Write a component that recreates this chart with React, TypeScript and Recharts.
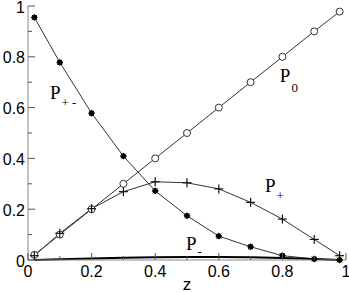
import { LineChart, Line, XAxis, YAxis, ReferenceDot } from "recharts";

/* ────────────────────────────────────────── */
/*  Data                                      */
/* ────────────────────────────────────────── */

const zValues = [0.02, 0.1, 0.2, 0.3, 0.4, 0.5, 0.6, 0.7, 0.8, 0.9, 0.98];
const p0 = [0.02, 0.1, 0.2, 0.3, 0.4, 0.5, 0.6, 0.7, 0.8, 0.9, 0.978];
const pPlusMinus = [0.955, 0.778, 0.578, 0.409, 0.272, 0.174, 0.094, 0.052, 0.017, 0.004, 0.0];
const pPlus = [0.017, 0.105, 0.202, 0.269, 0.308, 0.304, 0.28, 0.227, 0.161, 0.081, 0.017];
const pMinus = [0.0, 0.003, 0.006, 0.009, 0.011, 0.012, 0.012, 0.011, 0.008, 0.004, 0.0];

const ticks = [0, 0.1, 0.2, 0.3, 0.4, 0.5, 0.6, 0.7, 0.8, 0.9, 1];
const tickLabels = ["0", "", "0.2", "", "0.4", "", "0.6", "", "0.8", "", "1"];

// curve annotations, anchored in data coordinates
const labelNames = ["+ -", "0", "+", "-"];
const labelZ = [0.069, 0.792, 0.745, 0.497];
const labelV = [0.634, 0.701, 0.268, 0.039];

const rows = zValues.map((z, i) => ({
  z,
  p0: p0[i],
  ppm: pPlusMinus[i],
  pp: pPlus[i],
  pm: pMinus[i],
}));

const LINE = "#333";
const AXIS = "#888";
const TICK = "#555";
const SANS = "'Liberation Sans', Arial, sans-serif";
const SERIF = "'Liberation Serif', 'Times New Roman', serif";
const subDy = [8, 10, 8, 6];

/* ────────────────────────────────────────── */
/*  Inward ticks                              */
/* ────────────────────────────────────────── */

const tickLen = (i: number) => (i % 2 === 0 ? 7 : 4);

function BottomTick({ x, y, index }: any) {
  return (
    <g>
      <line x1={x} y1={y} x2={x} y2={y - tickLen(index)} stroke={TICK} />
      {tickLabels[index] && (
        <text x={x} y={y + 17} textAnchor="middle" fontFamily={SANS} fontSize={16} fill="#000">
          {tickLabels[index]}
        </text>
      )}
    </g>
  );
}

function TopTick({ x, y, index }: any) {
  return <line x1={x} y1={y} x2={x} y2={y + tickLen(index)} stroke={TICK} />;
}

function LeftTick({ x, y, index }: any) {
  return (
    <g>
      <line x1={x} y1={y} x2={x + tickLen(index)} y2={y} stroke={TICK} />
      {tickLabels[index] && (
        <text x={x - 3} y={y + 6.5} textAnchor="end" fontFamily={SANS} fontSize={16} fill="#000">
          {tickLabels[index]}
        </text>
      )}
    </g>
  );
}

function RightTick({ x, y, index }: any) {
  return <line x1={x} y1={y} x2={x - tickLen(index)} y2={y} stroke={TICK} />;
}

/* ────────────────────────────────────────── */
/*  Markers                                   */
/* ────────────────────────────────────────── */

function CircleDot({ cx, cy }: any) {
  return <circle cx={cx} cy={cy} r={3.5} fill="#fff" stroke={LINE} strokeWidth={1} />;
}

function PlusDot({ cx, cy }: any) {
  return (
    <g stroke="#111" strokeWidth={1.2}>
      <line x1={cx - 4.5} y1={cy} x2={cx + 4.5} y2={cy} />
      <line x1={cx} y1={cy - 4.5} x2={cx} y2={cy + 4.5} />
    </g>
  );
}

function StarDot({ cx, cy }: any) {
  return (
    <g stroke="#000" strokeWidth={1} fill="#000">
      <circle cx={cx} cy={cy} r={2.4} />
      <line x1={cx - 3.3} y1={cy} x2={cx + 3.3} y2={cy} />
      <line x1={cx} y1={cy - 3.3} x2={cx} y2={cy + 3.3} />
      <line x1={cx - 2.4} y1={cy - 2.4} x2={cx + 2.4} y2={cy + 2.4} />
      <line x1={cx - 2.4} y1={cy + 2.4} x2={cx + 2.4} y2={cy - 2.4} />
    </g>
  );
}

function CurveLabel(sub: string, dy: number) {
  return ({ cx, cy }: any) => (
    <text x={cx} y={cy} fontFamily={SERIF} fontSize={19} fill="#000">
      P
      <tspan dx={1} dy={dy} fontSize={13} fill="#000">
        {sub}
      </tspan>
    </text>
  );
}

export default function App() {
  return (
    <div style={{ position: "absolute", left: 0, top: 0, width: 349, height: 293, background: "#fff" }}>
      <LineChart width={349} height={293} data={rows} margin={{ top: 6, right: 3, bottom: 0, left: 0 }}>
        <XAxis
          xAxisId="b"
          dataKey="z"
          type="number"
          domain={[0, 1]}
          ticks={ticks}
          interval={0}
          height={33}
          tickSize={0}
          tickMargin={0}
          tickLine={false}
          stroke={AXIS}
          tick={<BottomTick />}
        />
        <XAxis
          xAxisId="t"
          orientation="top"
          dataKey="z"
          type="number"
          domain={[0, 1]}
          ticks={ticks}
          interval={0}
          height={0}
          tickSize={0}
          tickMargin={0}
          tickLine={false}
          stroke={AXIS}
          tick={<TopTick />}
        />
        <YAxis
          yAxisId="l"
          type="number"
          domain={[0, 1]}
          ticks={ticks}
          interval={0}
          width={28}
          tickSize={0}
          tickMargin={0}
          tickLine={false}
          stroke={AXIS}
          tick={<LeftTick />}
        />
        <YAxis
          yAxisId="r"
          orientation="right"
          type="number"
          domain={[0, 1]}
          ticks={ticks}
          interval={0}
          width={0}
          tickSize={0}
          tickMargin={0}
          tickLine={false}
          stroke={AXIS}
          tick={<RightTick />}
        />
        <Line xAxisId="b" yAxisId="l" dataKey="p0" type="linear" stroke={LINE} strokeWidth={1} dot={<CircleDot />} activeDot={false} isAnimationActive={false} />
        <Line xAxisId="b" yAxisId="l" dataKey="ppm" type="linear" stroke={LINE} strokeWidth={1} dot={<StarDot />} activeDot={false} isAnimationActive={false} />
        <Line xAxisId="b" yAxisId="l" dataKey="pp" type="linear" stroke={LINE} strokeWidth={1} dot={<PlusDot />} activeDot={false} isAnimationActive={false} />
        <Line xAxisId="b" yAxisId="l" dataKey="pm" type="linear" stroke="#000" strokeWidth={2} dot={false} activeDot={false} isAnimationActive={false} />
        {labelNames.map((sub, i) => (
          <ReferenceDot
            key={sub}
            xAxisId="b"
            yAxisId="l"
            x={labelZ[i]}
            y={labelV[i]}
            r={1}
            shape={CurveLabel(sub, subDy[i])}
          />
        ))}
        <text x={187} y={290} textAnchor="middle" fontFamily={SANS} fontSize={17} fill="#000">
          z
        </text>
      </LineChart>
    </div>
  );
}
